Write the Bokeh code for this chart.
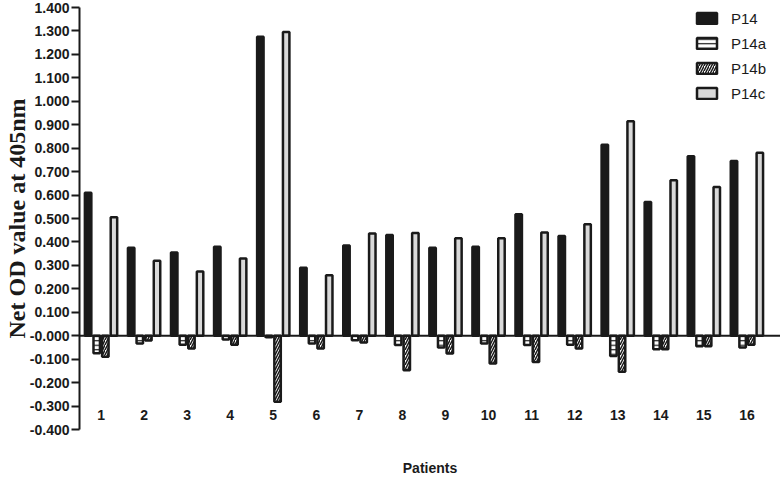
from bokeh.plotting import figure
from bokeh.models import (ColumnDataSource, Range1d, FixedTicker, CustomJSTickFormatter,
                          Span, Legend, LegendItem)
from bokeh.transform import dodge
from bokeh.embed import file_html
from bokeh.resources import INLINE

# ---- data ----
patients = ["1", "2", "3", "4", "5", "6", "7", "8", "9", "10", "11", "12", "13", "14", "15", "16"]
p14 = [0.610, 0.375, 0.355, 0.380, 1.275, 0.290, 0.385, 0.430, 0.375, 0.380, 0.518, 0.425, 0.815, 0.570, 0.765, 0.745]
p14a = [-0.075, -0.033, -0.038, -0.016, -0.007, -0.033, -0.019, -0.040, -0.050, -0.033, -0.040, -0.038, -0.087, -0.058, -0.045, -0.050]
p14b = [-0.090, -0.020, -0.055, -0.038, -0.282, -0.055, -0.029, -0.147, -0.076, -0.119, -0.112, -0.055, -0.154, -0.058, -0.045, -0.038]
p14c = [0.505, 0.320, 0.274, 0.329, 1.295, 0.258, 0.436, 0.438, 0.416, 0.416, 0.440, 0.475, 0.915, 0.663, 0.634, 0.780]
y_ticks = [-0.4, -0.3, -0.2, -0.1, 0.0, 0.1, 0.2, 0.3, 0.4, 0.5, 0.6, 0.7, 0.8, 0.9, 1.0, 1.1, 1.2, 1.3, 1.4]

xpos = list(range(1, len(patients) + 1))
source = ColumnDataSource(dict(x=xpos, p14=p14, p14a=p14a, p14b=p14b, p14c=p14c))

INK = "#1a1a1a"

p = figure(width=780, height=478, output_backend="svg", toolbar_location=None,
           x_range=Range1d(0.5, 16.78), y_range=Range1d(-0.4, 1.4),
           min_border_left=78, min_border_right=0, min_border_top=7, min_border_bottom=48)
p.outline_line_color = None
p.xgrid.visible = False
p.ygrid.visible = False
p.background_fill_color = "white"
p.border_fill_color = "white"

bw = 0.15
lw = 2.5
r1 = p.vbar(x=dodge("x", -0.3), top="p14", bottom=0, width=bw, source=source,
            fill_color=INK, line_color=INK, line_width=lw)
r2 = p.vbar(x=dodge("x", -0.1), top="p14a", bottom=0, width=bw, source=source,
            fill_color="white", line_color=INK, line_width=lw,
            hatch_pattern="horizontal_line", hatch_color=INK, hatch_scale=4.5, hatch_weight=1.2)
r3 = p.vbar(x=dodge("x", 0.1), top="p14b", bottom=0, width=bw, source=source,
            fill_color="white", line_color=INK, line_width=lw,
            hatch_pattern="right_diagonal_line", hatch_color=INK, hatch_scale=5, hatch_weight=1.5)
r4 = p.vbar(x=dodge("x", 0.3), top="p14c", bottom=0, width=bw, source=source,
            fill_color="#d9d9d9", line_color=INK, line_width=lw)

p.add_layout(Span(location=0, dimension="width", line_color=INK, line_width=2))

# ---- y axis ----
ya = p.yaxis[0]
ya.ticker = FixedTicker(ticks=y_ticks)
ya.formatter = CustomJSTickFormatter(code="return Math.abs(tick) < 1e-9 ? '-0.000' : tick.toFixed(3);")
ya.axis_line_color = INK
ya.axis_line_width = 2
ya.major_tick_line_color = INK
ya.major_tick_line_width = 2
ya.major_tick_out = 8
ya.major_tick_in = 0
ya.minor_tick_line_color = None
ya.major_label_text_font = "Liberation Sans"
ya.major_label_text_font_style = "bold"
ya.major_label_text_font_size = "14px"
ya.major_label_text_color = INK
ya.major_label_standoff = 2
ya.axis_label = "Net OD value at 405nm"
ya.axis_label_text_font = "Liberation Serif"
ya.axis_label_text_font_style = "bold"
ya.axis_label_text_font_size = "24px"
ya.axis_label_text_color = INK
ya.axis_label_standoff = -3

# ---- x axis ----
xa = p.xaxis[0]
xa.ticker = FixedTicker(ticks=xpos)
xa.major_label_overrides = {i: lab for i, lab in zip(xpos, patients)}
xa.axis_line_color = None
xa.major_tick_line_color = None
xa.minor_tick_line_color = None
xa.major_tick_out = 0
xa.major_tick_in = 0
xa.major_label_standoff = -20
xa.major_label_text_font = "Liberation Sans"
xa.major_label_text_font_style = "bold"
xa.major_label_text_font_size = "14px"
xa.major_label_text_color = INK
xa.axis_label = "Patients"
xa.axis_label_text_font = "Liberation Sans"
xa.axis_label_text_font_style = "bold"
xa.axis_label_text_font_size = "14px"
xa.axis_label_text_color = INK
xa.axis_label_standoff = 37

# ---- legend ----
legend = Legend(items=[LegendItem(label="P14", renderers=[r1]),
                       LegendItem(label="P14a", renderers=[r2]),
                       LegendItem(label="P14b", renderers=[r3]),
                       LegendItem(label="P14c", renderers=[r4])],
                location=(615, 326), margin=0, padding=0, spacing=5,
                glyph_width=25, glyph_height=14, label_height=20, label_standoff=12,
                label_text_font="Liberation Sans", label_text_font_size="15px",
                label_text_color=INK, border_line_color=None, background_fill_alpha=0)
p.add_layout(legend)

open("out.html", "w").write(file_html(p, INLINE))
